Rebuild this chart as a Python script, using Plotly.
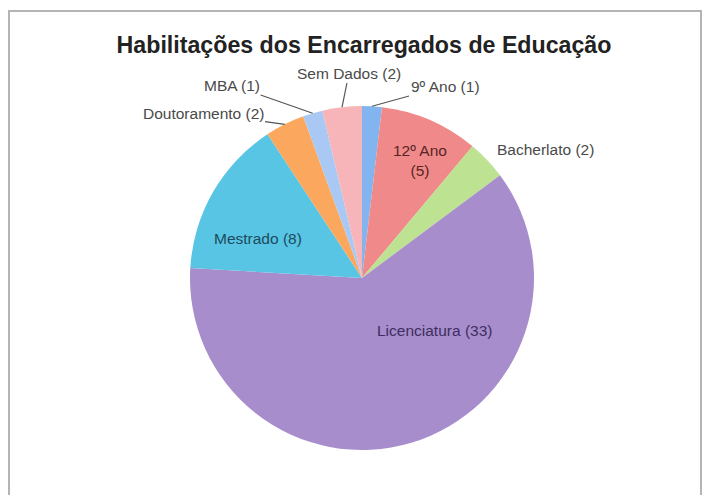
import math
import plotly.graph_objects as go

# Habilitações dos encarregados de educação (número de respostas)
categorias = ["9º Ano", "12º Ano", "Bacherlato", "Licenciatura", "Mestrado",
              "Doutoramento", "MBA", "Sem Dados"]
valores = [1, 5, 2, 33, 8, 2, 1, 2]
cores = ["#82b4f0", "#f08a8a", "#bde291", "#a78dcc", "#58c5e4",
         "#fba85e", "#a9c9f4", "#f7b5ba"]

W, H = 704, 495
# pie centre and radius in pixels
CX, CY, R = 362, 278, 172


def px(x):
    return x / W


def py(y):
    return 1 - y / H


fig = go.Figure(go.Pie(
    labels=categorias,
    values=valores,
    marker=dict(colors=cores, line=dict(width=0)),
    sort=False,
    direction="clockwise",
    rotation=0,
    textinfo="none",
    hoverinfo="label+value",
    showlegend=False,
    domain=dict(x=[px(CX - R), px(CX + R)], y=[py(CY + R), py(CY - R)]),
))

# edge point at the middle of each slice (clockwise from 12 o'clock)
total = sum(valores)
acum = 0
pontas = {}
for cat, v in zip(categorias, valores):
    meio = (acum + v / 2) / total * 2 * math.pi
    pontas[cat] = (CX + R * math.sin(meio), CY - R * math.cos(meio))
    acum += v

texto = "#4a4a4a"
fonte = "Liberation Sans, Arial, sans-serif"
TAM = 15.5

# outside labels with leader lines: (category, text centre in px)
externos = [
    ("Doutoramento", 203, 113),
    ("MBA", 232, 85),
    ("Sem Dados", 349, 73),
    ("9º Ano", 445, 86),
]
anot = []
for cat, tx, ty in externos:
    x0, y0 = pontas[cat]
    v = valores[categorias.index(cat)]
    anot.append(dict(
        x=px(x0), y=py(y0), xref="paper", yref="paper",
        text=f"{cat} ({v})", showarrow=True, ax=tx - x0, ay=ty - y0,
        xanchor="center", yanchor="middle",
        arrowhead=0, arrowwidth=1.2, arrowcolor="#555555", standoff=0,
        font=dict(size=TAM, color=texto, family=fonte),
    ))

# labels placed without leader lines: (category, x px, y px, colour, text)
internos = [
    ("Bacherlato", 545, 150, texto, None),
    ("12º Ano", 420, 160, "#5a2424", "12º Ano<br>(5)"),
    ("Mestrado", 258, 238, "#1d4a5c", None),
    ("Licenciatura", 434, 330, "#3e2d60", None),
]
for cat, x, y, cor, t in internos:
    v = valores[categorias.index(cat)]
    anot.append(dict(
        x=px(x), y=py(y), xref="paper", yref="paper",
        xanchor="center", yanchor="middle",
        text=t if t else f"{cat} ({v})", showarrow=False,
        font=dict(size=TAM, color=cor, family=fonte),
    ))

fig.update_layout(
    width=W, height=H,
    margin=dict(l=0, r=0, t=0, b=0),
    paper_bgcolor="white",
    title=dict(
        text="<b>Habilitações dos Encarregados de Educação</b>",
        x=px(364), y=py(45), xanchor="center", yanchor="middle",
        font=dict(size=23.2, color="#222222", family=fonte),
    ),
    annotations=anot,
    shapes=[dict(
        type="rect", xref="paper", yref="paper",
        x0=px(9), x1=px(701), y0=py(510), y1=py(11),
        line=dict(color="#b4b4b4", width=2),
    )],
)

fig.write_html("out.html")
